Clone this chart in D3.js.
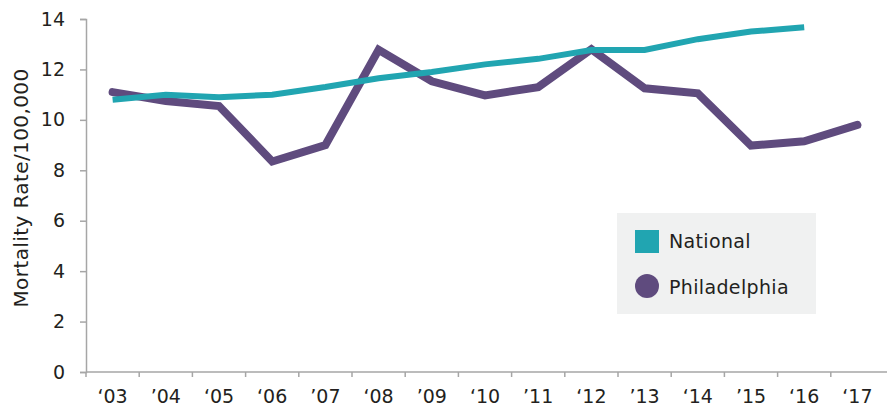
<!DOCTYPE html>
<html><head><meta charset="utf-8">
<script src="https://cdn.jsdelivr.net/npm/d3@7"></script>
<style>
html,body{margin:0;padding:0;background:#fff;}
svg{display:block;font-family:"DejaVu Sans",sans-serif;}
</style></head>
<body><svg id="c" width="893" height="406"></svg>
<script>
const years = ["‘03","’04","‘05","‘06","’07","‘08","’09","‘10","’11","‘12","’13","‘14","’15","‘16","‘17"];
const national = [10.8, 11.0, 10.9, 11.0, 11.3, 11.65, 11.9, 12.2, 12.42, 12.77, 12.77, 13.2, 13.5, 13.67];
const philadelphia = [11.1, 10.75, 10.55, 8.35, 9.0, 12.78, 11.53, 10.97, 11.3, 12.8, 11.25, 11.05, 8.98, 9.15, 9.8];
const yTicks = [0, 2, 4, 6, 8, 10, 12, 14];
const seriesNames = ["National", "Philadelphia"];
const colors = ["#21a5b1", "#5f4b7e"];

const svg = d3.select("#c");
const x = d3.scaleBand().domain(years).range([86, 884]);
const y = d3.scaleLinear().domain([0, 14]).range([372, 19]);
const fs = 19;
const axisColor = "#a6a6a6";
const textColor = "#231f20";

// y axis
const ya = svg.append("g").attr("transform", "translate(86,0)")
  .call(d3.axisLeft(y).tickValues(yTicks).tickSize(6).tickPadding(15).tickFormat(d3.format("d")));
ya.select(".domain").attr("stroke", axisColor).attr("stroke-width", 1.5);
ya.selectAll(".tick line").attr("stroke", axisColor).attr("stroke-width", 1.5);
ya.selectAll("text").attr("font-size", fs).attr("fill", textColor).attr("font-family", "DejaVu Sans");

// x axis: ticks at band boundaries
const xa = svg.append("g").attr("transform", "translate(0,372)");
xa.append("line").attr("x1", 86).attr("x2", 887).attr("y1", 0).attr("y2", 0)
  .attr("stroke", axisColor).attr("stroke-width", 1.5);
xa.selectAll("line.tk").data(years).enter().append("line").attr("class","tk")
  .attr("x1", d => x(d)).attr("x2", d => x(d)).attr("y1", 0).attr("y2", 5)
  .attr("stroke", axisColor).attr("stroke-width", 1.5);
xa.selectAll("text").data(years).enter().append("text")
  .attr("x", d => x(d) + x.bandwidth()/2).attr("y", 31)
  .attr("text-anchor", "middle").attr("font-size", fs).attr("fill", textColor)
  .text(d => d);

// y title
svg.append("text").attr("transform", "translate(28,188) rotate(-90)")
  .attr("text-anchor", "middle").attr("font-size", 20).attr("letter-spacing", 0.4).attr("fill", textColor)
  .text("Mortality Rate/100,000");

const cx = (d, i) => x(years[i]) + x.bandwidth()/2;
const line = d3.line().x((d, i) => cx(d, i)).y(d => y(d));

svg.append("path").datum(philadelphia).attr("d", line)
  .attr("fill", "none").attr("stroke", colors[1]).attr("stroke-width", 8)
  .attr("stroke-linecap", "round").attr("stroke-linejoin", "miter");
svg.append("path").datum(national).attr("d", line)
  .attr("fill", "none").attr("stroke", colors[0]).attr("stroke-width", 6)
  .attr("stroke-linecap", "butt").attr("stroke-linejoin", "miter");

// legend
const lg = svg.append("g");
lg.append("rect").attr("x", 617).attr("y", 213).attr("width", 199).attr("height", 101).attr("fill", "#f0f1f1");
lg.append("rect").attr("x", 635).attr("y", 230).attr("width", 24).attr("height", 23).attr("fill", colors[0]);
lg.append("circle").attr("cx", 647).attr("cy", 286).attr("r", 12).attr("fill", colors[1]);
lg.selectAll("text").data(seriesNames).enter().append("text")
  .attr("x", 669).attr("y", (d, i) => 248 + i * 46)
  .attr("font-size", fs).attr("letter-spacing", 0.35).attr("fill", textColor).text(d => d);
</script></body></html>
